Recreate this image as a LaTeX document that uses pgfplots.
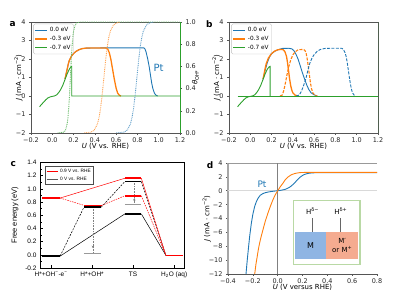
\documentclass[border=0pt]{standalone}
\usepackage{fontspec}
\setmainfont{DejaVu Sans}
\newfontfamily\arial{Liberation Sans}
\usepackage{pgfplots}
\pgfplotsset{compat=1.18}
\usetikzlibrary{arrows.meta}
\definecolor{tblue}{HTML}{1F77B4}
\definecolor{torange}{HTML}{FF7F0E}
\definecolor{tgreen}{HTML}{2CA02C}
\definecolor{spine}{HTML}{555555}
\definecolor{insetgreen}{HTML}{B9D9A5}
\definecolor{mblue}{HTML}{8FB5E3}
\definecolor{msalmon}{HTML}{F5AB90}
\newcommand{\fs}[1]{\fontsize{#1}{#1}\selectfont}
\pgfplotsset{
  mpl/.style={scale only axis, width=149bp, height=111bp, anchor=south west,
    axis line style={spine, line width=0.6bp},
    tick style={spine, line width=0.5bp}, tick align=outside, major tick length=2bp,
    ticklabel style={font=\fs{6.5}, text=black!85},
    xticklabel style={yshift=1.2bp},
    label style={font=\fs{7}},
    xtick pos=bottom, ytick pos=left},
  ylpos/.style={ylabel style={at={([xshift=#1]rel axis cs:0,0.5)}, anchor=center}},
  xlpos/.style={xlabel style={at={([yshift=#1]rel axis cs:0.5,0)}, anchor=center}},
  lg/.style={legend style={at={(0.015,0.985)}, anchor=north west, draw=black!25,
    rounded corners=1.5bp, font=\fs{5.8}, inner sep=1.2bp, row sep=-0.8bp, cells={anchor=west}},
    legend image code/.code={\draw[##1] (0bp,0bp) -- (12bp,0bp);}},
}
\begin{document}
\begin{tikzpicture}
\useasboundingbox (0bp,0bp) rectangle (399bp,299bp);
% ---------------- panel a ----------------
\begin{axis}[mpl, lg, at={(31bp,166bp)}, xmin=-0.2, xmax=1.2, ymin=-2, ymax=4,
  xtick={-0.2,0,0.2,0.4,0.6,0.8,1.0,1.2}, xticklabels={−0.2,0.0,0.2,0.4,0.6,0.8,1.0,1.2},
  ytick={-2,-1,0,1,2,3,4}, yticklabels={−2,−1,0,1,2,3,4},
  xlabel={\textit{U} (V vs. RHE)}, ylabel={\textit{J} (mA · cm\textsuperscript{−2})},
  ylpos=-12.5bp, xlpos=-13.8bp]
\addplot[tblue, line width=0.9bp] coordinates {(0.12,0.92)(0.13,1.2)(0.14,1.45)(0.15,1.72)(0.16,1.92)(0.18,2.15)(0.2,2.3)(0.22,2.4)(0.25,2.5)(0.28,2.56)(0.32,2.59)(0.5,2.6)(0.86,2.6)(0.87,2.55)(0.88,2.4)(0.895,2.05)(0.91,1.6)(0.922,1.15)(0.934,0.7)(0.946,0.38)(0.96,0.15)(0.975,0.04)(0.99,0.0)};
\addlegendentry{0.0 eV}
\addplot[torange, line width=1.3bp] coordinates {(0.12,0.92)(0.13,1.2)(0.14,1.45)(0.15,1.72)(0.16,1.92)(0.18,2.15)(0.2,2.3)(0.22,2.4)(0.25,2.5)(0.28,2.56)(0.32,2.59)(0.5,2.6)(0.52,2.55)(0.535,2.35)(0.55,2.0)(0.565,1.5)(0.58,1.0)(0.59,0.7)(0.6,0.42)(0.614,0.16)(0.63,0.04)(0.645,0.0)};
\addlegendentry{-0.3 eV}
\addplot[tgreen, line width=0.9bp] coordinates {(-0.12,-0.58)(-0.1,-0.45)(-0.08,-0.32)(-0.06,-0.2)(-0.04,-0.1)(-0.02,-0.05)(0.0,-0.02)(0.02,0.0)(0.04,0.06)(0.06,0.18)(0.08,0.36)(0.1,0.6)(0.12,0.9)(0.14,1.2)(0.16,1.45)(0.175,1.58)(0.183,1.6)(0.183,0)(1.2,0)};
\addlegendentry{-0.7 eV}
\addplot[tgreen, line width=0.9bp, forget plot] coordinates {(1.2,-2)(1.2,4)};
\node[text=tblue, font=\fs{10}] at (axis cs:0.998,1.51) {Pt};
\end{axis}
\begin{axis}[mpl, at={(31bp,166bp)}, xmin=-0.2, xmax=1.2, ymin=0, ymax=1,
  axis x line=none, axis y line*=right, ytick pos=right, yticklabel pos=right,
  y axis line style={tgreen, line width=0.9bp},
  ytick={0,0.2,0.4,0.6,0.8,1.0}, yticklabels={0.0,0.2,0.4,0.6,0.8,1.0},
  ylabel={\textit{θ}\textsubscript{OH*}},
  ylabel style={at={([xshift=15.5bp]rel axis cs:1,0.5)}, anchor=center}]
\addplot[tgreen!70, line width=0.9bp, dash pattern=on 0.9bp off 0.9bp] coordinates {(0.05,0)(0.11,0.008)(0.125,0.027)(0.14,0.083)(0.1475,0.142)(0.155,0.231)(0.1625,0.354)(0.17,0.5)(0.1775,0.646)(0.185,0.769)(0.1925,0.858)(0.2,0.917)(0.215,0.973)(0.23,0.992)(0.26,1)(1.2,1)};
\addplot[torange!70, line width=0.9bp, dash pattern=on 0.9bp off 0.9bp] coordinates {(0.3,0)(0.365,0.008)(0.395,0.027)(0.425,0.083)(0.44,0.142)(0.455,0.231)(0.47,0.354)(0.485,0.5)(0.5,0.646)(0.515,0.769)(0.53,0.858)(0.545,0.917)(0.575,0.973)(0.605,0.992)(0.64,1)};
\addplot[tblue!70, line width=0.9bp, dash pattern=on 0.9bp off 0.9bp] coordinates {(0.6,0)(0.675,0.008)(0.705,0.027)(0.735,0.083)(0.75,0.142)(0.765,0.231)(0.78,0.354)(0.795,0.5)(0.81,0.646)(0.825,0.769)(0.84,0.858)(0.855,0.917)(0.885,0.973)(0.915,0.992)(0.95,1)};
\end{axis}
% ---------------- panel b ----------------
\begin{axis}[mpl, lg, at={(229bp,166bp)}, xmin=-0.2, xmax=1.2, ymin=-2, ymax=4,
  xtick={-0.2,0,0.2,0.4,0.6,0.8,1.0,1.2}, xticklabels={−0.2,0.0,0.2,0.4,0.6,0.8,1.0,1.2},
  ytick={-2,-1,0,1,2,3,4}, yticklabels={−2,−1,0,1,2,3,4},
  xlabel={\textit{U} (V vs. RHE)}, ylabel={\textit{J} (mA · cm\textsuperscript{−2})},
  ylpos=-12.5bp, xlpos=-13.8bp]
\addplot[tblue, line width=0.9bp] coordinates {(0.12,0.9)(0.14,1.4)(0.16,1.8)(0.18,2.1)(0.2,2.28)(0.23,2.42)(0.26,2.5)(0.3,2.57)(0.36,2.58)(0.39,2.55)(0.41,2.45)(0.43,2.25)(0.45,1.98)(0.47,1.62)(0.49,1.25)(0.51,0.92)(0.53,0.6)(0.55,0.35)(0.57,0.18)(0.6,0.06)(0.63,0.0)};
\addlegendentry{0.0 eV}
\addplot[torange, line width=1.3bp] coordinates {(0.12,0.92)(0.13,1.2)(0.14,1.5)(0.15,1.75)(0.17,2.05)(0.2,2.3)(0.23,2.43)(0.26,2.5)(0.29,2.52)(0.31,2.5)(0.325,2.4)(0.34,2.15)(0.35,1.8)(0.36,1.35)(0.37,0.9)(0.38,0.55)(0.39,0.32)(0.40,0.17)(0.42,0.05)(0.45,0.0)};
\addlegendentry{-0.3 eV}
\addplot[tgreen, line width=0.9bp] coordinates {(-0.12,-0.58)(-0.1,-0.45)(-0.08,-0.32)(-0.06,-0.2)(-0.04,-0.1)(-0.02,-0.05)(0.0,-0.02)(0.02,0.0)(0.04,0.06)(0.06,0.18)(0.08,0.36)(0.1,0.6)(0.12,0.9)(0.14,1.2)(0.16,1.45)(0.178,1.58)(0.187,1.6)(0.187,0)};
\addlegendentry{-0.7 eV}
\addplot[torange, line width=1.1bp, dash pattern=on 3bp off 1.4bp, forget plot] coordinates {(0.28,0)(0.3,0.05)(0.315,0.3)(0.33,0.7)(0.345,1.15)(0.36,1.55)(0.38,1.95)(0.4,2.22)(0.42,2.38)(0.45,2.5)(0.5,2.52)(0.515,2.45)(0.525,2.3)(0.535,2.0)(0.545,1.6)(0.555,1.15)(0.565,0.72)(0.575,0.4)(0.59,0.15)(0.61,0.03)(0.63,0)};
\addplot[tblue, line width=0.9bp, dash pattern=on 3bp off 1.4bp, forget plot] coordinates {(0.43,0)(0.46,0.05)(0.48,0.25)(0.5,0.55)(0.52,0.9)(0.54,1.35)(0.55,1.58)(0.56,1.78)(0.58,2.05)(0.6,2.24)(0.63,2.42)(0.66,2.52)(0.7,2.57)(0.75,2.58)(0.86,2.58)(0.875,2.52)(0.89,2.35)(0.9,2.15)(0.91,1.85)(0.92,1.45)(0.93,1.05)(0.94,0.68)(0.95,0.38)(0.96,0.18)(0.975,0.05)(0.99,0)};
\addplot[tgreen, line width=0.9bp, forget plot] coordinates {(-0.12,0)(1.2,0)};
\addplot[tgreen, line width=0.9bp, forget plot] coordinates {(1.2,-2)(1.2,4)};
\end{axis}
% ---------------- panel c ----------------
\begin{axis}[scale only axis, at={(40bp,31bp)}, anchor=south west, width=144bp, height=105.6bp,
  xmin=-0.27, xmax=3.24, ymin=-0.2, ymax=1.4,
  xtick={0,1,2,3}, xticklabels={H*+OH\textsuperscript{−}-e\textsuperscript{−},H*+OH*,TS,H\textsubscript{2}O (aq)},
  ytick={-0.2,0,0.2,0.4,0.6,0.8,1.0,1.2,1.4}, yticklabels={-0.2,0.0,0.2,0.4,0.6,0.8,1.0,1.2,1.4},
  minor ytick={-0.1,0.1,0.3,0.5,0.7,0.9,1.1,1.3},
  tick align=inside, xtick pos=bottom, ytick pos=left, major tick length=2.5bp, minor tick length=1.5bp,
  axis line style={black, line width=0.6bp}, tick style={black, line width=0.5bp},
  ticklabel style={font=\arial\fs{6.5}},
  ylabel={Free energy (eV)}, label style={font=\arial\fs{7.5}}, ylpos=-25bp,
  legend style={at={(0.035,0.969)}, anchor=north west, draw=black!70, font=\arial\fs{4.8}, inner sep=1bp, row sep=-1bp, cells={anchor=west}},
  legend image code/.code={\draw[#1] (0bp,0bp) -- (11bp,0bp);}]
\addlegendimage{red, line width=1bp}
\addlegendentry{0.9 V vs. RHE}
\addlegendimage{black!65, line width=1bp}
\addlegendentry{0 V vs. RHE}
% connectors
\addplot[black, line width=0.5bp] coordinates {(0.22,-0.02)(1.8,0.62)};
\addplot[black, line width=0.5bp] coordinates {(2.2,0.62)(2.8,-0.01)};
\addplot[black, line width=0.5bp, dash pattern=on 2bp off 1.2bp] coordinates {(0.22,-0.02)(0.8,0.72)};
\addplot[black, line width=0.5bp, dash pattern=on 2bp off 1.2bp] coordinates {(1.22,0.72)(1.8,1.11)};
\addplot[black, line width=0.5bp, dash pattern=on 2bp off 1.2bp] coordinates {(2.2,1.11)(2.8,-0.01)};
\addplot[red, line width=0.5bp] coordinates {(0.22,0.86)(1.8,1.16)};
\addplot[red, line width=0.5bp] coordinates {(2.2,1.16)(2.8,-0.01)};
\addplot[red, line width=0.5bp, dash pattern=on 1.5bp off 1bp] coordinates {(0.22,0.86)(0.8,0.75)};
\addplot[red, line width=0.5bp, dash pattern=on 1.5bp off 1bp] coordinates {(1.24,0.75)(1.8,0.895)};
\addplot[red, line width=0.5bp, dash pattern=on 1.5bp off 1bp] coordinates {(2.2,0.895)(2.8,-0.01)};
% arrows
\addplot[gray, line width=0.5bp, dash pattern=on 0.8bp off 0.8bp] coordinates {(1.02,0.70)(1.02,0.04)};
\addplot[gray, line width=0.5bp, -{Stealth[length=2.5bp,width=2.5bp]}] coordinates {(1.02,0.16)(1.02,0.1)};
\addplot[gray, line width=0.5bp, dash pattern=on 0.8bp off 0.8bp] coordinates {(2.03,1.09)(2.03,0.78)};
\addplot[gray, line width=0.5bp, -{Stealth[length=2.5bp,width=2.5bp]}] coordinates {(2.03,0.8)(2.03,0.86)};
% levels
\addplot[black, line width=1.6bp] coordinates {(-0.22,-0.02)(0.22,-0.02)};
\addplot[red, line width=1.6bp] coordinates {(-0.22,0.86)(0.22,0.86)};
\addplot[gray!80, line width=1.2bp] coordinates {(0.8,0.02)(1.22,0.02)};
\addplot[red, line width=1.6bp] coordinates {(0.8,0.75)(1.24,0.75)};
\addplot[black, line width=1.6bp] coordinates {(0.8,0.72)(1.22,0.72)};
\addplot[red, line width=1.6bp] coordinates {(1.8,1.16)(2.2,1.16)};
\addplot[black, line width=1.6bp] coordinates {(1.8,1.11)(2.2,1.11)};
\addplot[red, line width=1.6bp] coordinates {(1.8,0.895)(2.2,0.895)};
\addplot[gray!80, line width=1.2bp] coordinates {(1.8,0.76)(2.18,0.76)};
\addplot[black, line width=1.6bp] coordinates {(1.8,0.62)(2.2,0.62)};
\addplot[black, line width=1.6bp] coordinates {(2.8,-0.01)(3.22,-0.01)};
\addplot[red, line width=1.6bp] coordinates {(2.8,-0.01)(3.22,-0.01)};
\end{axis}
% ---------------- panel d ----------------
\begin{axis}[scale only axis, at={(228bp,25bp)}, anchor=south west, width=149bp, height=111bp,
  xmin=-0.4, xmax=0.8, ymin=-12, ymax=4, axis lines*=left,
  x axis line style={spine, line width=0.6bp}, y axis line style={black!35, line width=1.2bp},
  tick style={spine, line width=0.5bp}, tick align=outside, major tick length=2bp,
  ticklabel style={font=\fs{6.5}, text=black!85}, xticklabel style={yshift=1.2bp}, label style={font=\fs{7}},
  xtick={-0.4,-0.2,0,0.2,0.4,0.6,0.8}, xticklabels={−0.4,−0.2,0.0,0.2,0.4,0.6,0.8},
  ytick={-12,-10,-8,-6,-4,-2,0,2,4}, yticklabels={−12,−10,−8,−6,−4,−2,0,2,4},
  xlabel={\textit{U} (V versus RHE)}, ylabel={\textit{J} (mA · cm\textsuperscript{−2})},
  ylpos=-21.3bp, xlpos=-13.8bp]
\draw[black!40, line width=0.5bp] (rel axis cs:0,1) -- (rel axis cs:1,1);
\addplot[black!15, line width=0.6bp] coordinates {(-0.4,0)(0.8,0)};
\addplot[black!50, line width=0.8bp] coordinates {(0,-12)(0,4)};
\addplot[tblue, line width=0.9bp] coordinates {(-0.265,-13)(-0.255,-12)(-0.245,-10)(-0.235,-8.2)(-0.225,-6.5)(-0.212,-4.7)(-0.2,-3.4)(-0.185,-2.25)(-0.17,-1.5)(-0.155,-1.0)(-0.14,-0.65)(-0.12,-0.42)(-0.1,-0.28)(-0.07,-0.16)(-0.04,-0.08)(0,0.0)(0.03,0.08)(0.06,0.2)(0.08,0.35)(0.1,0.55)(0.12,0.85)(0.14,1.2)(0.16,1.6)(0.18,1.95)(0.2,2.2)(0.22,2.38)(0.25,2.52)(0.28,2.58)(0.32,2.6)(0.8,2.6)};
\addplot[torange, line width=0.9bp] coordinates {(-0.19,-13)(-0.185,-12)(-0.175,-10.6)(-0.164,-9.4)(-0.155,-8.4)(-0.145,-7.5)(-0.13,-6.4)(-0.118,-5.6)(-0.1,-4.4)(-0.078,-3.2)(-0.058,-2.2)(-0.038,-1.3)(-0.02,-0.6)(0.003,0.07)(0.02,0.55)(0.043,1.1)(0.06,1.55)(0.083,1.98)(0.11,2.3)(0.137,2.48)(0.165,2.58)(0.19,2.63)(0.25,2.65)(0.8,2.65)};
\node[text=tblue, font=\fs{9}] at (axis cs:-0.126,0.87) {Pt};
\draw[draw=insetgreen, fill=white, line width=1.2bp] (axis cs:0.126,-1.39) rectangle (axis cs:0.663,-10.65);
\fill[mblue] (axis cs:0.14,-6.0) rectangle (axis cs:0.389,-9.83);
\fill[msalmon] (axis cs:0.389,-6.0) rectangle (axis cs:0.649,-9.83);
\draw[black!60, line width=0.5bp] (axis cs:0.282,-3.93) -- (axis cs:0.282,-6.0);
\draw[black!60, line width=0.5bp] (axis cs:0.508,-3.93) -- (axis cs:0.508,-6.0);
\node[font=\fs{7}] at (axis cs:0.282,-2.97) {H\textsuperscript{δ−}};
\node[font=\fs{7}] at (axis cs:0.508,-2.97) {H\textsuperscript{δ+}};
\node[font=\fs{8}] at (axis cs:0.265,-7.9) {M};
\node[font=\fontsize{7}{9}\selectfont, align=center, inner sep=0pt] at (axis cs:0.52,-7.95) {M′\\or M\textsuperscript{+}};
\end{axis}
% panel letters
\node[font=\bfseries\fs{9}] at (12.7bp,275bp) {a};
\node[font=\bfseries\fs{9}] at (209.3bp,275bp) {b};
\node[font=\bfseries\fs{9}] at (13.3bp,135bp) {c};
\node[font=\bfseries\fs{9}] at (210bp,134bp) {d};
\end{tikzpicture}
\end{document}
